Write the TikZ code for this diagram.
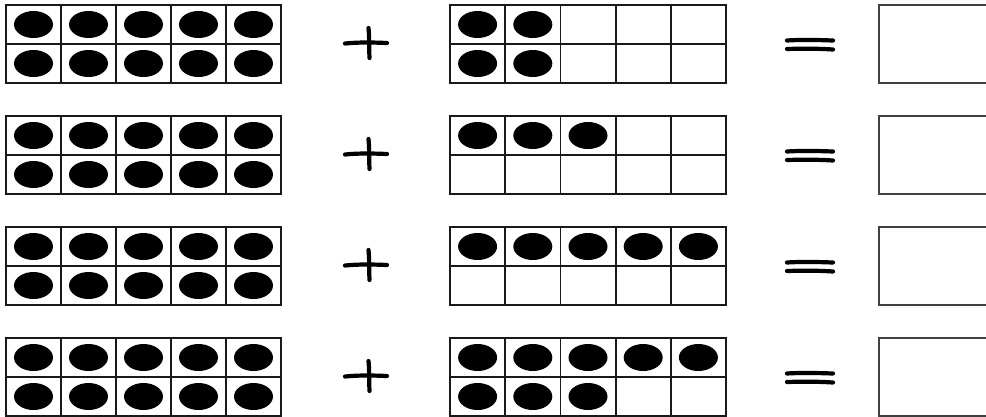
\documentclass[tikz,border=0pt]{standalone}
\begin{document}
\begin{tikzpicture}[x=1pt,y=-1pt,
  gridline/.style={line width=1.8pt, draw=black!90},
  counter/.style={fill=black},
  pen/.style={line width=4.2pt, line cap=round, draw=black},
  answerbox/.style={line width=1.8pt, draw=black!75}]
\useasboundingbox (0,0) rectangle (986,416);
\foreach \r/\ta/\tb in {0/2/2,1/3/0,2/5/0,3/5/3}{
  \pgfmathsetmacro\yo{5+111*\r}
  % left full ten-frame
  \draw[gridline] (6,\yo) rectangle (281,\yo+78);
  \foreach \k in {1,...,4}{\draw[gridline] (6+55*\k,\yo) -- (6+55*\k,\yo+78);}
  \draw[gridline] (6,\yo+39) -- (281,\yo+39);
  \foreach \k in {0,...,4}{
    \fill[counter] (33.5+55*\k,\yo+19.5) ellipse [x radius=19.5, y radius=13.5];
    \fill[counter] (33.5+55*\k,\yo+58.5) ellipse [x radius=19.5, y radius=13.5];
  }
  % plus sign
  \draw[pen] (345,\yo+38.5) .. controls (360,\yo+37) and (375,\yo+37.5) .. (387,\yo+38);
  \draw[pen] (368.5,\yo+23) .. controls (369.5,\yo+33) and (369,\yo+43) .. (369.5,\yo+53);
  % second ten-frame
  \draw[gridline] (450,\yo) rectangle (726,\yo+78);
  \foreach \k in {1,...,4}{\draw[gridline] (450+55.2*\k,\yo) -- (450+55.2*\k,\yo+78);}
  \draw[gridline] (450,\yo+39) -- (726,\yo+39);
  \foreach \k in {1,...,5}{
    \ifnum\k>\ta\relax\else
      \fill[counter] (422.4+55.2*\k,\yo+19.5) ellipse [x radius=19.5, y radius=13.5];
    \fi
    \ifnum\k>\tb\relax\else
      \fill[counter] (422.4+55.2*\k,\yo+58.5) ellipse [x radius=19.5, y radius=13.5];
    \fi
  }
  % equals sign
  \draw[pen] (787,\yo+35.5) .. controls (803,\yo+34.5) and (818,\yo+35) .. (833,\yo+35.5);
  \draw[pen] (787,\yo+44) .. controls (803,\yo+43.5) and (818,\yo+43.5) .. (833,\yo+44.5);
  % answer box
  \draw[answerbox] (990,\yo) -- (879,\yo) -- (879,\yo+78) -- (990,\yo+78);
}
\end{tikzpicture}
\end{document}
